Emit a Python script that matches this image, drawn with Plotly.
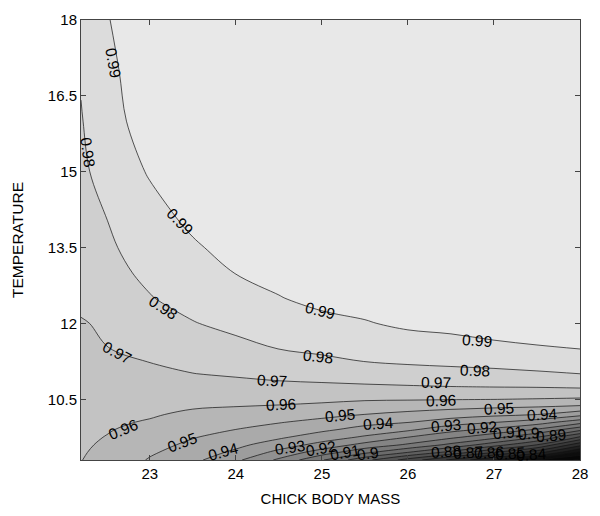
import plotly.graph_objects as go

# Grid
chick_mass = [22.2, 22.5, 23.0, 23.5, 24.0, 24.5, 25.0, 25.5, 26.0, 26.5, 27.0, 27.5, 28.0]
temperature = [9.3, 9.45, 9.6, 9.75, 9.9, 10.05, 10.2, 10.35, 10.5, 10.75, 11.0, 11.25,
               11.5, 12.0, 12.5, 13.0, 13.5, 14.0, 15.0, 16.0, 17.0, 18.0]

z_t9_30 = [0.9602, 0.9570, 0.9492, 0.9425, 0.9320, 0.9182, 0.9009, 0.8829, 0.8660, 0.8480, 0.8301, 0.8099, 0.7980]
z_t9_45 = [0.9607, 0.9579, 0.9512, 0.9455, 0.9380, 0.9271, 0.9150, 0.9022, 0.8899, 0.8767, 0.8601, 0.8440, 0.8180]
z_t9_60 = [0.9612, 0.9588, 0.9532, 0.9480, 0.9425, 0.9350, 0.9267, 0.9167, 0.9085, 0.8975, 0.8843, 0.8699, 0.8433]
z_t9_75 = [0.9617, 0.9597, 0.9553, 0.9505, 0.9463, 0.9415, 0.9350, 0.9285, 0.9199, 0.9121, 0.9030, 0.8899, 0.8683]
z_t9_90 = [0.9622, 0.9606, 0.9573, 0.9531, 0.9499, 0.9461, 0.9419, 0.9365, 0.9318, 0.9233, 0.9173, 0.9089, 0.8929]
z_t10_05 = [0.9627, 0.9614, 0.9593, 0.9557, 0.9533, 0.9506, 0.9474, 0.9432, 0.9405, 0.9354, 0.9308, 0.9250, 0.9143]
z_t10_20 = [0.9632, 0.9622, 0.9609, 0.9583, 0.9567, 0.9549, 0.9527, 0.9499, 0.9473, 0.9447, 0.9424, 0.9401, 0.9333]
z_t10_35 = [0.9637, 0.9631, 0.9622, 0.9607, 0.9599, 0.9591, 0.9577, 0.9558, 0.9541, 0.9526, 0.9512, 0.9501, 0.9482]
z_t10_50 = [0.9642, 0.9639, 0.9636, 0.9629, 0.9626, 0.9626, 0.9620, 0.9609, 0.9607, 0.9604, 0.9601, 0.9595, 0.9587]
z_t10_75 = [0.9651, 0.9653, 0.9658, 0.9664, 0.9670, 0.9679, 0.9683, 0.9688, 0.9693, 0.9699, 0.9703, 0.9706, 0.9714]
z_t11_00 = [0.9659, 0.9667, 0.9680, 0.9698, 0.9710, 0.9724, 0.9735, 0.9747, 0.9761, 0.9769, 0.9776, 0.9787, 0.9799]
z_t11_25 = [0.9668, 0.9681, 0.9702, 0.9725, 0.9741, 0.9763, 0.9783, 0.9801, 0.9813, 0.9821, 0.9830, 0.9840, 0.9852]
z_t11_50 = [0.9676, 0.9698, 0.9724, 0.9750, 0.9776, 0.9801, 0.9816, 0.9832, 0.9847, 0.9860, 0.9882, 0.9893, 0.9901]
z_t12_00 = [0.9692, 0.9716, 0.9756, 0.9796, 0.9822, 0.9845, 0.9869, 0.9893, 0.9918, 0.9928, 0.9935, 0.9940, 0.9943]
z_t12_50 = [0.9725, 0.9751, 0.9796, 0.9830, 0.9862, 0.9895, 0.9931, 0.9940, 0.9945, 0.9948, 0.9950, 0.9951, 0.9952]
z_t13_00 = [0.9749, 0.9775, 0.9817, 0.9859, 0.9902, 0.9935, 0.9945, 0.9950, 0.9953, 0.9955, 0.9956, 0.9957, 0.9958]
z_t13_50 = [0.9756, 0.9787, 0.9838, 0.9887, 0.9935, 0.9946, 0.9952, 0.9956, 0.9958, 0.9960, 0.9961, 0.9962, 0.9963]
z_t14_00 = [0.9761, 0.9798, 0.9858, 0.9918, 0.9945, 0.9952, 0.9957, 0.9960, 0.9962, 0.9964, 0.9965, 0.9966, 0.9967]
z_t15_00 = [0.9784, 0.9831, 0.9909, 0.9945, 0.9955, 0.9960, 0.9963, 0.9965, 0.9967, 0.9968, 0.9969, 0.9970, 0.9971]
z_t16_00 = [0.9795, 0.9858, 0.9950, 0.9958, 0.9962, 0.9965, 0.9967, 0.9969, 0.9970, 0.9971, 0.9972, 0.9973, 0.9974]
z_t17_00 = [0.9807, 0.9880, 0.9950, 0.9960, 0.9964, 0.9967, 0.9969, 0.9971, 0.9972, 0.9973, 0.9974, 0.9975, 0.9976]
z_t18_00 = [0.9824, 0.9895, 0.9960, 0.9965, 0.9968, 0.9970, 0.9972, 0.9973, 0.9974, 0.9975, 0.9976, 0.9977, 0.9978]

survival = [z_t9_30, z_t9_45, z_t9_60, z_t9_75, z_t9_90, z_t10_05, z_t10_20, z_t10_35,
            z_t10_50, z_t10_75, z_t11_00, z_t11_25, z_t11_50, z_t12_00, z_t12_50,
            z_t13_00, z_t13_50, z_t14_00, z_t15_00, z_t16_00, z_t17_00, z_t18_00]

level_start = 0.80
level_end = 0.99
level_step = 0.01

# Contour labels as printed on the chart
label_text = ["0.99", "0.98", "0.99", "0.98", "0.97", "0.99", "0.98", "0.97", "0.96",
              "0.96", "0.95", "0.94", "0.95", "0.94", "0.93", "0.92", "0.91", "0.9",
              "0.97", "0.96", "0.93", "0.98", "0.99", "0.95", "0.92", "0.91", "0.9",
              "0.89", "0.94", "0.88", "0.87", "0.86", "0.85", "0.84"]
label_mass = [22.571, 22.281, 23.349, 23.151, 22.618, 24.973, 24.949, 24.416, 24.520,
              22.687, 23.372, 23.859, 25.205, 25.657, 24.625, 24.984, 25.274, 25.541,
              26.330, 26.388, 26.446, 26.782, 26.806, 27.061, 26.864, 27.165, 27.409,
              27.664, 27.560, 26.446, 26.701, 26.945, 27.188, 27.432]
label_temp = [17.154, 15.385, 14.019, 12.308, 11.423, 12.250, 11.346, 10.865, 10.404,
              9.904, 9.654, 9.462, 10.173, 10.019, 9.538, 9.519, 9.442, 9.423,
              10.827, 10.481, 9.981, 11.077, 11.654, 10.327, 9.942, 9.846, 9.827,
              9.788, 10.192, 9.462, 9.442, 9.442, 9.423, 9.404]
label_angle = [80, 82, 46, 33, 28, 14, 6, 3, -3,
               -22, -20, -15, -5, -4, -8, -10, -10, -8,
               1, -2, -5, 2, 4, -3, -5, -5, -5,
               -5, -3, -4, -4, -4, -4, -4]

x_ticks = [23, 24, 25, 26, 27, 28]
y_ticks = [10.5, 12, 13.5, 15, 16.5, 18]
y_tick_text = ["10.5", "12", "13.5", "15", "16.5", "18"]

FONT = "Liberation Sans, Arial, Helvetica, sans-serif"

fig = go.Figure()
fig.add_trace(go.Contour(
    x=chick_mass, y=temperature, z=survival,
    contours=dict(start=level_start, end=level_end, size=level_step,
                  coloring="fill", showlabels=False),
    colorscale=[[0, "rgb(0,0,0)"], [0.15, "rgb(20,20,20)"], [1, "rgb(232,232,232)"]],
    line=dict(color="#111", width=0.7),
    showscale=False, hoverinfo="skip",
))

for t, lx, ly, ang in zip(label_text, label_mass, label_temp, label_angle):
    fig.add_annotation(x=lx, y=ly, xref="x", yref="y", text=t, showarrow=False,
                       textangle=ang, font=dict(family=FONT, size=15.5, color="black"))

axis_common = dict(showline=True, linecolor="#444", linewidth=1, mirror="ticks",
                   ticks="inside", ticklen=5, tickcolor="#444", showgrid=False,
                   zeroline=False, tickfont=dict(family=FONT, size=15, color="black"))

fig.update_xaxes(range=[22.2, 28], tickvals=x_ticks, ticktext=[str(v) for v in x_ticks],
                 title=dict(text="CHICK BODY MASS", font=dict(family=FONT, size=15, color="black"),
                            standoff=12), **axis_common)
fig.update_yaxes(range=[9.3, 18], tickvals=y_ticks, ticktext=y_tick_text,
                 title=dict(text="TEMPERATURE", font=dict(family=FONT, size=15.5, color="black"),
                            standoff=20), **axis_common)

fig.update_layout(width=600, height=516, margin=dict(l=81, r=20, t=11, b=53),
                  paper_bgcolor="white", plot_bgcolor="white", showlegend=False,
                  hovermode=False,
                  font=dict(family=FONT, size=15, color="black"))

fig.write_html("out.html", config={"displayModeBar": False, "staticPlot": True},
               post_script="document.body.style.margin='0px';")
